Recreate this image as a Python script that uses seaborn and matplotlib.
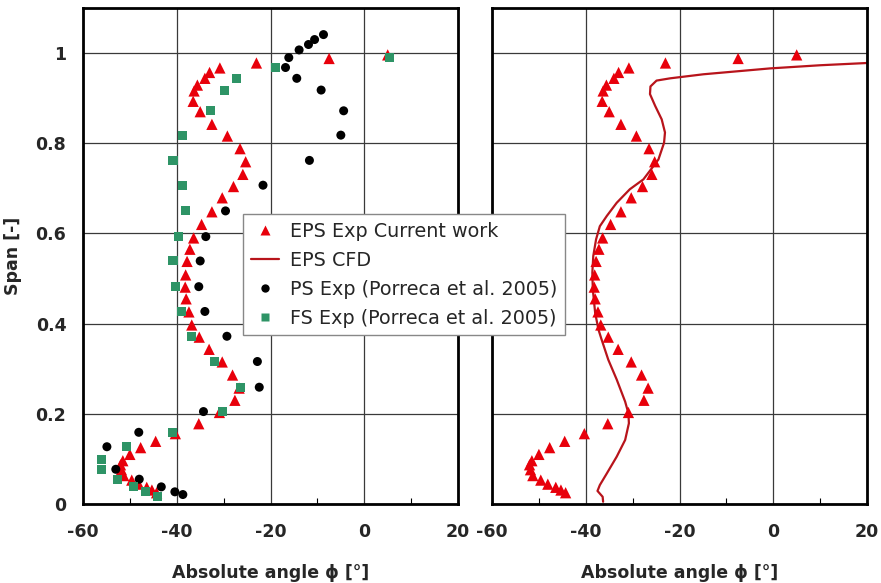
import numpy as np
import pandas as pd
import matplotlib
matplotlib.use("Agg")
import matplotlib.pyplot as plt
from matplotlib.ticker import MultipleLocator
import seaborn as sns

# EPS experiment (current work): absolute flow angle vs span
eps_exp_angle = [5.0, -7.5, -23.0, -30.8, -33.0, -34.0, -35.6, -36.3, -36.5, -35.0,
                 -32.5, -29.2, -26.5, -25.3, -25.9, -27.9, -30.3, -32.5, -34.7, -36.4,
                 -37.2, -37.8, -38.1, -38.2, -38.0, -37.4, -36.8, -35.2, -33.1, -30.3,
                 -28.1, -26.7, -27.6, -30.9, -35.3, -40.3, -44.5, -47.7, -50.0, -51.5,
                 -52.0, -51.8, -51.3, -49.6, -48.1, -46.4, -45.3, -44.3]
eps_exp_span = [0.996, 0.988, 0.978, 0.967, 0.957, 0.944, 0.929, 0.916, 0.893, 0.870,
                0.842, 0.816, 0.788, 0.759, 0.731, 0.704, 0.679, 0.648, 0.620, 0.590,
                0.565, 0.538, 0.508, 0.481, 0.455, 0.426, 0.397, 0.370, 0.343, 0.315,
                0.286, 0.257, 0.230, 0.203, 0.178, 0.156, 0.139, 0.125, 0.110, 0.096,
                0.087, 0.076, 0.063, 0.053, 0.044, 0.037, 0.031, 0.025]

# EPS CFD profile
cfd_angle = [-36.3, -36.4, -37.5, -37.0, -35.5, -33.4, -31.6, -30.8, -30.9, -31.6,
             -33.4, -35.2, -36.6, -37.3, -38.0, -38.5, -38.6, -38.4, -37.8, -37.0,
             -35.5, -33.4, -30.6, -27.7, -24.5, -23.3, -23.1, -23.8, -25.2, -26.3,
             -26.2, -24.9, -22.0, -14.9, -0.7, 10.0, 20.0]
cfd_span = [0.005, 0.016, 0.029, 0.042, 0.068, 0.105, 0.142, 0.179, 0.201, 0.227,
            0.276, 0.320, 0.364, 0.387, 0.424, 0.476, 0.513, 0.550, 0.587, 0.616,
            0.639, 0.668, 0.698, 0.720, 0.764, 0.801, 0.824, 0.853, 0.883, 0.909,
            0.926, 0.939, 0.944, 0.953, 0.966, 0.973, 0.978]

# PS experiment (Porreca et al. 2005)
ps_angle = [-8.7, -10.6, -11.9, -13.9, -16.1, -16.8, -14.4, -9.2, -4.4, -5.0,
            -11.7, -21.6, -29.6, -33.8, -35.0, -35.3, -34.0, -29.3, -22.8, -22.4,
            -34.3, -48.1, -54.9, -53.0, -48.0, -43.3, -40.4, -38.7]
ps_span = [1.041, 1.030, 1.019, 1.007, 0.990, 0.968, 0.944, 0.918, 0.872, 0.818,
           0.762, 0.707, 0.650, 0.593, 0.539, 0.482, 0.427, 0.372, 0.316, 0.259,
           0.205, 0.159, 0.127, 0.077, 0.055, 0.038, 0.027, 0.021]

# FS experiment (Porreca et al. 2005)
fs_angle = [5.4, -19.0, -27.2, -29.8, -32.8, -38.7, -40.8, -38.7, -38.2, -39.7,
            -40.8, -40.2, -38.9, -36.8, -31.9, -26.4, -30.2, -41.0, -50.7, -56.0,
            -56.0, -52.7, -49.2, -46.6, -44.0]
fs_span = [0.990, 0.969, 0.944, 0.918, 0.873, 0.818, 0.762, 0.707, 0.650, 0.593,
           0.539, 0.482, 0.427, 0.372, 0.316, 0.259, 0.205, 0.159, 0.127, 0.098,
           0.077, 0.055, 0.038, 0.027, 0.016]

x_ticks = [-60, -40, -20, 0, 20]
y_ticks = [0, 0.2, 0.4, 0.6, 0.8, 1.0]
y_tick_labels = ["0", "0.2", "0.4", "0.6", "0.8", "1"]

labels = ["EPS Exp Current work", "EPS CFD",
          "PS Exp (Porreca et al. 2005)", "FS Exp (Porreca et al. 2005)"]

sns.set_theme(style="white")
plt.rcParams["font.family"] = ["DejaVu Sans"]

RED = "#e8000b"
LINE_RED = "#b8141b"
GREEN = "#2e9466"

eps = pd.DataFrame({"angle": eps_exp_angle, "span": eps_exp_span})
cfd = pd.DataFrame({"angle": cfd_angle, "span": cfd_span})
ps = pd.DataFrame({"angle": ps_angle, "span": ps_span})
fs = pd.DataFrame({"angle": fs_angle, "span": fs_span})

fig = plt.figure(figsize=(8.81, 5.83), dpi=100)
ax1 = fig.add_axes([0.0942, 0.1355, 0.4257, 0.8508])
ax2 = fig.add_axes([0.5585, 0.1355, 0.4256, 0.8508])

tri_kw = dict(marker="^", s=66, color=RED, edgecolor="none", zorder=3)

# left panel: experiments
sns.scatterplot(data=eps, x="angle", y="span", ax=ax1, legend=False, **tri_kw)
sns.scatterplot(data=ps, x="angle", y="span", ax=ax1, marker="o", s=42,
                color="black", edgecolor="none", legend=False, zorder=3)
sns.scatterplot(data=fs, x="angle", y="span", ax=ax1, marker="s", s=42,
                color=GREEN, edgecolor="none", legend=False, zorder=3)

# right panel: EPS experiment vs CFD
sns.scatterplot(data=eps, x="angle", y="span", ax=ax2, legend=False, **tri_kw)
sns.lineplot(data=cfd, x="angle", y="span", ax=ax2, sort=False, estimator=None,
             color=LINE_RED, linewidth=1.6, zorder=2)

for ax in (ax1, ax2):
    ax.set_xlim(-60, 20)
    ax.set_ylim(0, 1.1)
    ax.set_xticks(x_ticks)
    ax.set_xticklabels([str(t) for t in x_ticks])
    ax.set_yticks(y_ticks)
    ax.xaxis.set_minor_locator(MultipleLocator(10))
    ax.grid(True, which="major", color="#3a3a3a", linewidth=0.9)
    ax.set_axisbelow(True)
    for sp in ax.spines.values():
        sp.set_visible(True)
        sp.set_color("black")
        sp.set_linewidth(2.0)
    ax.tick_params(axis="x", which="major", length=0, pad=14,
                   labelsize=12.5)
    ax.tick_params(axis="x", which="minor", direction="in", bottom=True,
                   length=4, width=0.8, color="black")
    ax.tick_params(axis="y", which="major", length=0, pad=12, labelsize=12.5)
    for lab in ax.get_xticklabels() + ax.get_yticklabels():
        lab.set_fontweight("bold")
    ax.set_xlabel("Absolute angle ϕ [°]", fontsize=12.5, fontweight="bold",
                  labelpad=16)

ax1.set_yticklabels(y_tick_labels)
for lab in ax1.get_yticklabels():
    lab.set_fontweight("bold")
ax1.set_ylabel("Span [-]", fontsize=12.5, fontweight="bold", labelpad=10)
ax2.set_ylabel("")
ax2.set_yticklabels([])

handles = [
    plt.Line2D([], [], linestyle="none", marker="^", markersize=7,
               color=RED, markeredgecolor="none"),
    plt.Line2D([], [], color=LINE_RED, linewidth=1.6),
    plt.Line2D([], [], linestyle="none", marker="o", markersize=6,
               color="black", markeredgecolor="none"),
    plt.Line2D([], [], linestyle="none", marker="s", markersize=6,
               color=GREEN, markeredgecolor="none"),
]
leg = fig.legend(handles, labels, loc="upper left",
                 bbox_to_anchor=(0.2758, 0.633), fontsize=13.8,
                 frameon=True, fancybox=False, framealpha=1,
                 edgecolor="#888888", borderaxespad=0, handlelength=1.5,
                 handletextpad=0.55, labelspacing=0.52, borderpad=0.4)
leg.get_frame().set_linewidth(1.0)

fig.savefig("out.png", dpi=100)
